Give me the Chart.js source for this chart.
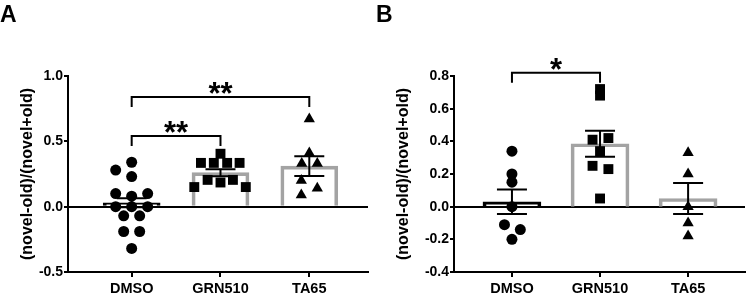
<!DOCTYPE html>
<html>
<head>
<meta charset="utf-8">
<script src="https://cdn.jsdelivr.net/npm/chart.js@4.4.0/dist/chart.umd.min.js"></script>
<style>
  html, body { margin: 0; padding: 0; background: #fff; }
  .wrap { display: flex; width: 752px; height: 296px; }
</style>
</head>
<body>
<div class="wrap">
  <canvas id="chartA" width="376" height="296"></canvas>
  <canvas id="chartB" width="376" height="296"></canvas>
</div>
<script>
// ---- data ----
const categories = ['DMSO', 'GRN510', 'TA65'];
const yTitle = '(novel-old)/(novel+old)';

// Panel A
const meansA = [0.03, 0.26, 0.31];
const semsA = [0.035, 0.027, 0.075];
const dmsoA = [0.28, 0.34, 0.23, 0.10, 0.08, 0.10, 0.0, 0.0, 0.0, -0.07, -0.07, -0.19, -0.19, -0.32];
const dmsoAJitter = [-0.18, 0, 0, -0.18, 0, 0.18, -0.18, 0, 0.18, -0.09, 0.09, -0.09, 0.09, 0];
const grnA = [0.335, 0.335, 0.405, 0.335, 0.335, 0.205, 0.185, 0.205, 0.15, 0.15];
const grnAJitter = [-0.22, -0.075, 0, 0.075, 0.215, -0.145, 0, 0.14, -0.295, 0.285];
const taA = [0.67, 0.41, 0.33, 0.33, 0.20, 0.14, 0.09];
const taAJitter = [0, 0, -0.085, 0.09, -0.09, 0.09, -0.09];
const bracketsA = [
  { from: 1, to: 2, y: 0.54, label: '**' },
  { from: 1, to: 3, y: 0.84, label: '**' }
];

// Panel B
const meansB = [0.03, 0.385, 0.05];
const semsB = [0.075, 0.08, 0.095];
const dmsoB = [0.34, 0.20, 0.15, 0.0, -0.11, -0.14, -0.20];
const dmsoBJitter = [0, 0, 0, 0, -0.085, 0.095, 0];
const grnB = [0.72, 0.68, 0.41, 0.42, 0.34, 0.25, 0.23, 0.05];
const grnBJitter = [0, 0, -0.085, 0.095, 0, -0.085, 0.095, 0];
const taB = [0.33, 0.20, 0.0, -0.10, -0.18];
const taBJitter = [0, 0, 0, 0, 0];
const bracketsB = [
  { from: 1, to: 2, y: 0.82, label: '*' }
];

const FONT = "'Liberation Sans', Arial, Helvetica, sans-serif";
Chart.defaults.font.family = FONT;
Chart.defaults.color = '#000';

// error bars + significance brackets, drawn through the chart scales
const annotPlugin = {
  id: 'annot',
  afterDatasetsDraw(chart, args, opts) {
    const { ctx } = chart;
    const xs = chart.scales.x, ys = chart.scales.y;
    ctx.save();
    ctx.strokeStyle = '#000';
    ctx.lineWidth = 2;
    opts.means.forEach((m, i) => {
      const px = xs.getPixelForValue(i + 1);
      const hi = ys.getPixelForValue(m + opts.sems[i]);
      const lo = ys.getPixelForValue(m - opts.sems[i]);
      ctx.beginPath();
      ctx.moveTo(px, hi); ctx.lineTo(px, lo);
      ctx.moveTo(px - 15, hi); ctx.lineTo(px + 15, hi);
      ctx.moveTo(px - 15, lo); ctx.lineTo(px + 15, lo);
      ctx.stroke();
    });
    opts.brackets.forEach(b => {
      const x1 = xs.getPixelForValue(b.from);
      const x2 = xs.getPixelForValue(b.to);
      const py = ys.getPixelForValue(b.y);
      ctx.beginPath();
      ctx.moveTo(x1, py + opts.leg);
      ctx.lineTo(x1, py);
      ctx.lineTo(x2, py);
      ctx.lineTo(x2, py + opts.leg);
      ctx.stroke();
      ctx.fillStyle = '#000';
      ctx.font = 'bold 31px ' + FONT;
      ctx.textAlign = 'center';
      ctx.textBaseline = 'alphabetic';
      ctx.fillText(b.label, (x1 + x2) / 2, py + opts.starShift);
    });
    ctx.restore();
  }
};

function points(values, jitter, cat) {
  return values.map((v, i) => ({ x: cat + jitter[i], y: v }));
}

function makePanel(id, p) {
  new Chart(document.getElementById(id), {
    type: 'bar',
    data: {
      datasets: [
        {
          type: 'scatter', order: 1,
          data: points(p.dmso, p.dmsoJitter, 1),
          pointStyle: 'circle', pointRadius: 5.5,
          backgroundColor: '#000', borderWidth: 0
        },
        {
          type: 'scatter', order: 1,
          data: points(p.grn, p.grnJitter, 2),
          pointStyle: 'rect', pointRadius: 7,
          backgroundColor: '#000', borderWidth: 0
        },
        {
          type: 'scatter', order: 1,
          data: points(p.ta, p.taJitter, 3),
          pointStyle: 'triangle', pointRadius: 6.5,
          backgroundColor: '#000', borderWidth: 0
        },
        {
          type: 'bar', order: 3,
          data: p.means.map((m, i) => ({ x: i + 1, y: m })),
          barThickness: p.barWidth,
          backgroundColor: 'rgba(255,255,255,0)',
          borderColor: ['#000', '#a3a3a3', '#a3a3a3'],
          borderWidth: 3,
          borderSkipped: 'bottom'
        }
      ]
    },
    options: {
      responsive: false,
      animation: false,
      layout: { padding: { left: 0, right: p.rightPad, top: 0, bottom: 0 } },
      plugins: {
        legend: { display: false },
        tooltip: { enabled: false },
        title: {
          display: true, text: p.letter, align: 'start', color: '#000',
          font: { size: 23, weight: 'bold', lineHeight: 1.2 },
          padding: { top: 2, bottom: 76 - 2 - 27.6 }
        },
        annot: {
          means: p.means, sems: p.sems, brackets: p.brackets,
          leg: 10, starShift: 7
        }
      },
      scales: {
        x: {
          type: 'linear', offset: false,
          min: p.xMin, max: p.xMax,
          afterFit: s => { s.height = 24; },
          afterBuildTicks: s => { s.ticks = categories.map((c, i) => ({ value: i + 1 })); },
          ticks: {
            autoSkip: false, maxRotation: 0, padding: 3,
            font: { size: 14.5, weight: 'bold' },
            callback: (v, i) => categories[i]
          },
          grid: { offset: false, drawOnChartArea: false, drawTicks: true, tickLength: 5, color: '#000', lineWidth: 2 },
          border: { display: true, color: '#000', width: 2 }
        },
        y: {
          min: p.yMin, max: p.yMax,
          afterFit: s => { s.width = p.yAxisWidth; },
          ticks: {
            stepSize: p.step, padding: 1,
            font: { size: 14, weight: 'bold' },
            callback: v => v.toFixed(1)
          },
          grid: {
            drawTicks: true, tickLength: 4, tickColor: '#000', lineWidth: 2,
            color: c => (c.tick && Math.abs(c.tick.value) < 1e-9) ? '#000' : 'rgba(0,0,0,0)'
          },
          border: { display: true, color: '#000', width: 2 },
          title: {
            display: true, text: yTitle, color: '#000',
            font: { size: 16, weight: 'bold', lineHeight: 1.2 },
            padding: { top: 18, bottom: 0 }
          }
        }
      }
    },
    plugins: [annotPlugin]
  });
}

makePanel('chartA', {
  letter: 'A', means: meansA, sems: semsA, brackets: bracketsA,
  dmso: dmsoA, dmsoJitter: dmsoAJitter, grn: grnA, grnJitter: grnAJitter, ta: taA, taJitter: taAJitter,
  yMin: -0.5, yMax: 1.0, step: 0.5, xMin: 0.283, xMax: 3.661,
  yAxisWidth: 68, rightPad: 8, barWidth: 57
});

makePanel('chartB', {
  letter: 'B', means: meansB, sems: semsB, brackets: bracketsB,
  dmso: dmsoB, dmsoJitter: dmsoBJitter, grn: grnB, grnJitter: grnBJitter, ta: taB, taJitter: taBJitter,
  yMin: -0.4, yMax: 0.8, step: 0.2, xMin: 0.342, xMax: 3.646,
  yAxisWidth: 78, rightPad: 4, barWidth: 58
});
</script>
</body>
</html>
